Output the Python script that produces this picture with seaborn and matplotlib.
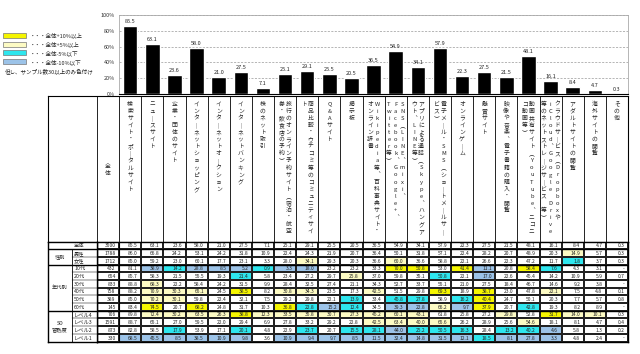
import numpy as np
import matplotlib.pyplot as plt
import seaborn as sns
from matplotlib.colors import ListedColormap
from matplotlib.patches import Rectangle

sns.set_theme(style='white')
plt.rcParams['font.family'] = ['Noto Sans CJK JP', 'DejaVu Sans']

nan = np.nan

# %%
# categories ("\n" = column break of the vertical header)
categories = [
    '検索サイト・ポータルサイト', 'ニュースサイト', '企業・団体のサイト',
    'インターネットショッピング', 'インターネットオークション', 'インターネットバンキング',
    '株のネット取引', '旅行のオンライン予約サイト（宿泊・航空\n券・飲食店の予約）',
    '商品比較・ウチコミ等のコミュニティサイ\nト', 'Q&Aサイト', '掲示板',
    'Wikipedia等、百科事典サイト・\nオンライン辞書',
    'SNS（LINE、mixi、\nFacebook、Google+、\nTwitter等）',
    'アプリによる通話（Skype、ハングア\nウト、LINE等）',
    '電子メール・SMS（ショートメールサー\nビス）', 'オンラインゲーム', '懸賞サイト',
    '映像や音楽、電子書籍の購入・閲覧', '動画共有サイト（YouTube、ニコニ\nコ動画等）',
    'クラウドサービス（Dropboxや\niCloud、Google Drive\n等のネットストレージサービス 等）',
    'アダルトサイトの閲覧', '海外サイトの閲覧', 'その他',
]

row_labels = ['全体', '男性', '女性', '10代', '20代', '30代', '40代', '50代', '60代',
              'レベル4', 'レベル3', 'レベル2', 'レベル1']
group_labels = [('', 1), ('性別', 2), ('年代別', 6), ('SD\n習熟度', 4)]
sample_n = [3500, 1788, 1712, 432, 654, 833, 758, 389, 145, 706, 1591, 873, 330]

v_total = [85.5, 63.1, 23.6, 58.0, 21.0, 27.5, 7.1, 25.1, 29.1, 25.5, 20.5, 36.5, 54.9, 34.1, 57.9, 22.3, 27.5, 21.5, 48.1, 16.1, 8.4, 4.7, 0.3]
v_male = [86.0, 66.8, 24.2, 53.1, 24.2, 31.8, 10.9, 22.4, 24.3, 21.9, 20.7, 36.4, 50.1, 31.8, 57.1, 22.4, 28.2, 20.7, 48.9, 20.3, 14.9, 5.7, 0.3]
v_female = [85.0, 59.2, 23.0, 60.1, 17.7, 23.1, 3.3, 28.0, 34.1, 29.3, 20.3, 36.6, 60.0, 36.6, 58.8, 22.1, 26.6, 22.3, 47.2, 11.7, 1.8, 3.7, 0.3]
v_10s = [81.1, 38.9, 14.2, 28.8, 8.5, 5.2, 0.9, 3.3, 18.0, 23.2, 23.2, 33.3, 70.0, 50.8, 53.0, 41.4, 11.1, 20.8, 58.4, 7.6, 4.3, 3.1, nan]
v_20s = [85.7, 58.3, 21.5, 55.5, 19.3, 21.4, 5.8, 23.4, 27.2, 29.7, 25.8, 37.0, 59.8, 35.1, 50.8, 22.1, 17.0, 22.6, 45.4, 14.2, 10.9, 5.9, 0.7]
v_30s = [88.8, 68.3, 22.2, 58.4, 24.2, 31.5, 9.9, 28.4, 32.5, 27.4, 21.1, 34.3, 52.7, 33.7, 55.1, 21.0, 27.5, 18.4, 46.7, 14.6, 9.2, 3.8, nan]
v_40s = [88.2, 70.9, 30.3, 65.1, 24.5, 38.5, 8.2, 30.8, 34.3, 23.5, 17.3, 42.5, 51.5, 29.8, 69.3, 18.9, 38.7, 23.0, 47.8, 22.1, 7.5, 4.8, 0.1]
v_50s = [85.0, 70.2, 30.1, 59.8, 22.4, 32.1, 7.5, 29.2, 29.8, 22.1, 13.9, 33.4, 45.8, 27.8, 58.9, 16.2, 40.4, 24.7, 50.1, 20.3, 7.7, 5.7, 0.8]
v_60s = [83.4, 74.5, 20.7, 68.2, 24.8, 31.7, 10.3, 36.8, 22.8, 15.2, 12.4, 34.5, 39.3, 22.8, 66.2, 9.7, 37.9, 20.7, 42.8, 19.3, 8.2, 8.9, nan]
v_lv4 = [89.8, 72.4, 30.2, 63.5, 26.3, 38.8, 12.3, 33.5, 35.8, 30.7, 27.3, 45.2, 60.1, 43.1, 61.8, 25.8, 27.2, 29.8, 52.8, 31.7, 14.0, 10.1, 0.3]
v_lv3 = [88.7, 65.1, 27.0, 59.5, 22.0, 29.4, 6.9, 27.8, 33.2, 29.2, 22.8, 42.5, 63.4, 40.0, 65.6, 26.2, 28.9, 25.6, 54.6, 18.1, 8.1, 4.7, 0.4]
v_lv2 = [82.8, 58.5, 17.9, 53.9, 17.1, 20.1, 4.8, 22.9, 23.7, 20.7, 15.5, 28.1, 44.0, 25.2, 50.5, 16.3, 28.4, 13.2, 40.2, 4.6, 5.8, 1.3, 0.2]
v_lv1 = [68.5, 45.5, 8.5, 38.5, 10.9, 9.8, 3.6, 10.9, 9.4, 9.7, 8.5, 11.5, 32.4, 14.8, 31.5, 12.1, 18.5, 8.1, 27.8, 3.3, 4.8, 2.4, nan]

table_rows = [v_total, v_male, v_female, v_10s, v_20s, v_30s, v_40s, v_50s, v_60s,
              v_lv4, v_lv3, v_lv2, v_lv1]

legend_texts = ['・・・全体+10%以上', '・・・全体+5%以上', '・・・全体-5%以下', '・・・全体-10%以下']
note_text = '但し、サンプル数30以上のみ色付け'

# %%
C_Y, C_LY, C_C, C_B = '#f5f500', '#fdfbc4', '#2ee6ee', '#9cc3e8'
W, H = 640, 354
ncat = len(categories)
unit = (628 - 97) / (ncat + 1)   # px per table column


def frac(x0, y0, x1, y1):
    return [x0 / W, 1 - y1 / H, (x1 - x0) / W, (y1 - y0) / H]


def diff_code(v, base, n):
    if np.isnan(v) or n < 30:
        return 0
    d = round(v - base, 1)
    if d >= 10:
        return 1
    if d >= 5:
        return 2
    if d <= -10:
        return 4
    if d <= -5:
        return 3
    return 0


vert_map = {'ー': '｜', '（': '︵', '）': '︶', '、': '︑'}

fig = plt.figure(figsize=(6.4, 3.54), dpi=100)

# bar chart
ax = fig.add_axes(frac(97 + unit, 15, 628, 94))
sns.barplot(x=categories, y=v_total, color='black', saturation=1, width=0.66, ax=ax)
ax.set_xlim(-0.5, ncat - 0.5)
ax.set_ylim(0, 100)
ax.set_xticks([])
ax.set_xlabel('')
ax.set_yticks(range(0, 101, 20))
ax.set_yticklabels([f'{t}%' for t in range(0, 101, 20)], fontsize=4, color='#333333')
ax.tick_params(axis='y', length=0, pad=3)
ax.yaxis.grid(True, linestyle=(0, (3, 2)), color='#999999', lw=0.5)
ax.set_axisbelow(True)
for s in ['top', 'right', 'left']:
    ax.spines[s].set_color('#aaaaaa')
    ax.spines[s].set_linewidth(0.6)
ax.spines['bottom'].set_color('black')
ax.spines['bottom'].set_linewidth(0.8)
ax.bar_label(ax.containers[0], labels=[f'{v:.1f}' for v in v_total], fontsize=4, padding=1.5)

# vertical header
axh = fig.add_axes(frac(48, 96, 628, 241.5))
axh.set_xlim(-49 / unit, ncat + 1)
axh.set_ylim(145.5, 0)
axh.set_xticks([])
axh.set_yticks([])
for s in axh.spines.values():
    s.set_color('black')
    s.set_linewidth(0.8)
for k in range(ncat + 1):
    axh.axvline(k, color='black', lw=0.6)
step = 7.1
for i, ch in enumerate('全体'):
    axh.text(0.5, 70 + i * step, ch, ha='center', va='center', fontsize=4.2)
sub_step = 6.8 / unit
for j, name in enumerate(categories):
    parts = name.split('\n')
    n = len(parts)
    for k, part in enumerate(parts):
        x = j + 1.5 + ((n - 1) / 2 - k) * sub_step
        for i, ch in enumerate(part):
            axh.text(x, 8 + i * step, vert_map.get(ch, ch), ha='center', va='center', fontsize=4.2)

# table cells
codes = np.zeros((len(row_labels), ncat + 1), dtype=int)
for r, vals in enumerate(table_rows):
    for c, v in enumerate(vals):
        codes[r, c + 1] = 0 if r == 0 else diff_code(v, v_total[c], sample_n[r])

axt = fig.add_axes(frac(97, 241.5, 628, 341.5))
sns.heatmap(codes, ax=axt, cmap=ListedColormap(['white', C_Y, C_LY, C_C, C_B]),
            vmin=-0.5, vmax=4.5, cbar=False, linewidths=0.35, linecolor='#222222',
            xticklabels=False, yticklabels=False)
pad = 3.5 / unit
for r, vals in enumerate(table_rows):
    axt.text(1 - pad, r + 0.55, str(sample_n[r]), ha='right', va='center', fontsize=3.6)
    for c, v in enumerate(vals):
        txt = '-' if np.isnan(v) else f'{v:.1f}'
        axt.text(c + 2 - pad, r + 0.55, txt, ha='right', va='center', fontsize=3.6)
for r in [1, 3, 9]:
    axt.axhline(r, color='black', lw=1.0)
axt.axvline(1, color='black', lw=0.8)
for s in axt.spines.values():
    s.set_visible(True)
    s.set_color('black')
    s.set_linewidth(1.0)

# row labels
axl = fig.add_axes(frac(48, 241.5, 97, 341.5))
axl.set_xlim(0, 49)
axl.set_ylim(len(row_labels), 0)
axl.set_xticks([])
axl.set_yticks([])
for s in axl.spines.values():
    s.set_color('black')
    s.set_linewidth(1.0)
axl.plot([24, 24], [1, len(row_labels)], color='black', lw=0.6)
start = 0
for g, (lab, n) in enumerate(group_labels):
    if lab:
        axl.text(12, start + n / 2, lab, ha='center', va='center', fontsize=3.8, linespacing=1.3)
    for r in range(start + 1, start + n):
        axl.plot([24, 49], [r, r], color='black', lw=0.35)
    start += n
    if start < len(row_labels):
        axl.plot([0, 49], [start, start], color='black', lw=1.0)
for r, lab in enumerate(row_labels):
    axl.text(26, r + 0.55, lab, ha='left', va='center', fontsize=3.8)

# colour legend
for i, (txt, col) in enumerate(zip(legend_texts, [C_Y, C_LY, C_C, C_B])):
    y0 = 33 + i * 8.7
    fig.add_artist(Rectangle((3 / W, 1 - (y0 + 5) / H), 23 / W, 5 / H, transform=fig.transFigure,
                             facecolor=col, edgecolor='#777777', lw=0.5))
    fig.text(30 / W, 1 - (y0 + 2.7) / H, txt, ha='left', va='center', fontsize=4)
fig.text(5 / W, 1 - 71 / H, note_text, ha='left', va='center', fontsize=4)

plt.savefig('out.png', dpi=100)
